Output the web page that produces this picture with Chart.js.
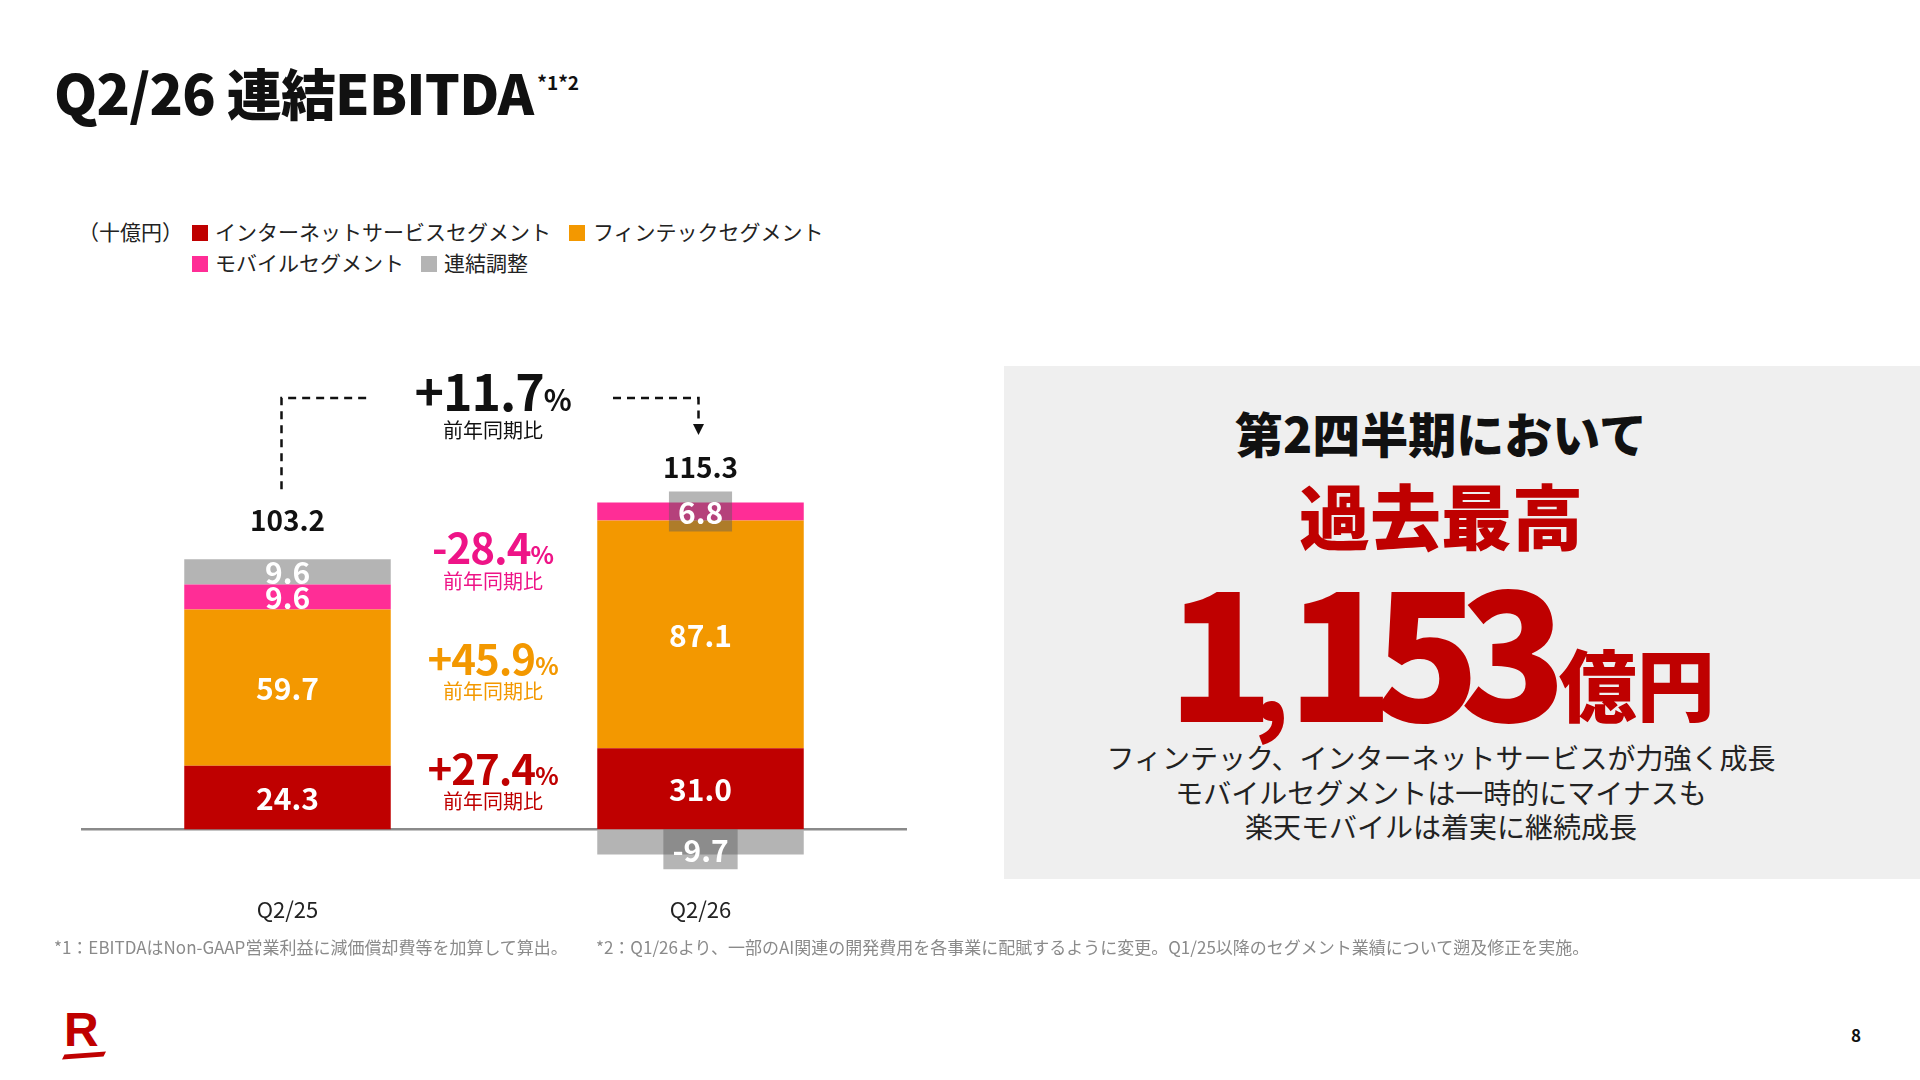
<!DOCTYPE html>
<html lang="ja"><head><meta charset="utf-8">
<script src="https://cdn.jsdelivr.net/npm/chart.js@4.4.1/dist/chart.umd.min.js"></script>
<style>
html,body{margin:0;padding:0;background:#fff;}
body{width:1920px;height:1080px;position:relative;overflow:hidden;font-family:"Noto Sans CJK JP","Noto Sans",sans-serif;color:#111;}
.abs{position:absolute;white-space:nowrap;line-height:1;}
.sq{position:absolute;width:16px;height:16px;}
.leg{position:absolute;font-size:21px;line-height:1;color:#222;white-space:nowrap;}
.yoy{position:absolute;left:393px;width:200px;text-align:center;white-space:nowrap;line-height:1;font-weight:700;letter-spacing:-1px;}
.yoy small{font-size:0.58em;letter-spacing:0;}
.yoysub{position:absolute;left:393px;width:200px;text-align:center;font-size:20px;line-height:1;white-space:nowrap;}
#chartBox{position:absolute;left:0;top:340px;width:1000px;height:640px;}
#panel{position:absolute;left:1004px;top:366px;width:916px;height:513px;background:#efefef;}
.pc{position:absolute;left:1004px;width:874px;text-align:center;white-space:nowrap;}
</style></head>
<body>
<div class="abs" style="left:54px;top:64px;font-size:55px;font-weight:900;color:#111;letter-spacing:-0.8px;">Q2/26 連結EBITDA<span style="font-size:19px;font-weight:700;vertical-align:top;position:relative;top:8px;margin-left:4px;letter-spacing:0;">*1*2</span></div>

<div class="leg" style="left:78px;top:221px;">（十億円）</div>
<div class="sq" style="left:192px;top:225px;background:#BF0000;"></div>
<div class="leg" id="lg0" style="left:215px;top:221px;"></div>
<div class="sq" style="left:569px;top:225px;background:#F39800;"></div>
<div class="leg" id="lg1" style="left:593px;top:221px;"></div>
<div class="sq" style="left:192px;top:256px;background:#FF2D96;"></div>
<div class="leg" id="lg2" style="left:215px;top:252px;"></div>
<div class="sq" style="left:421px;top:256px;background:#B4B4B4;"></div>
<div class="leg" id="lg3" style="left:444px;top:252px;"></div>

<div id="chartBox"><canvas id="c" width="1000" height="640"></canvas></div>

<div class="yoy" id="yoy0" style="top:364px;font-size:50px;color:#111;"></div>
<div class="yoysub" style="top:420px;color:#111;">前年同期比</div>
<div class="yoy" id="yoy1" style="top:525px;font-size:42px;color:#EE1487;"></div>
<div class="yoysub" style="top:571px;color:#EE1487;">前年同期比</div>
<div class="yoy" id="yoy2" style="top:636px;font-size:42px;color:#F39800;"></div>
<div class="yoysub" style="top:681px;color:#F39800;">前年同期比</div>
<div class="yoy" id="yoy3" style="top:746px;font-size:42px;color:#BF0000;"></div>
<div class="yoysub" style="top:791px;color:#BF0000;">前年同期比</div>

<div id="panel"></div>
<div class="pc" style="top:408px;font-size:48px;font-weight:900;line-height:1;color:#111;">第2四半期において</div>
<div class="pc" style="top:478px;font-size:71px;font-weight:900;line-height:1;color:#BF0000;">過去最高</div>
<div class="pc" style="top:558px;font-size:175px;font-weight:900;line-height:175px;color:#BF0000;"><span style="letter-spacing:-20px;">1<span style="font-size:100px;letter-spacing:-2px;">,</span>153</span><span style="font-size:78px;line-height:1;margin-left:12px;position:relative;top:-6px;">億円</span></div>
<div class="pc" style="top:740px;font-size:28px;line-height:34.5px;color:#222;">フィンテック、インターネットサービスが力強く成長<br>モバイルセグメントは一時的にマイナスも<br>楽天モバイルは着実に継続成長</div>

<div class="abs" style="left:54px;top:938px;font-size:17px;color:#8a8a8a;">*1：EBITDAはNon-GAAP営業利益に減価償却費等を加算して算出。</div>
<div class="abs" style="left:596px;top:938px;font-size:17px;color:#8a8a8a;">*2：Q1/26より、一部のAI関連の開発費用を各事業に配賦するように変更。Q1/25以降のセグメント業績について遡及修正を実施。</div>

<div class="abs" style="left:64px;top:1006px;font-size:48px;font-weight:900;color:#BF0000;font-family:'Liberation Sans',sans-serif;">R</div>
<div class="abs" style="left:64px;top:1053px;width:40px;height:5px;background:#BF0000;transform:skewX(-30deg) rotate(-4deg);"></div>
<div class="abs" style="left:1851px;top:1026px;font-size:17px;font-weight:700;color:#111;">8</div>

<script>
// ---- data ----
const categories = ['Q2/25', 'Q2/26'];
const seriesNames = ['インターネットサービスセグメント', 'フィンテックセグメント', 'モバイルセグメント', '連結調整'];
const internetValues = [24.3, 31.0];
const fintechValues = [59.7, 87.1];
const mobileValues = [9.6, 6.8];
const adjustValues = [9.6, -9.7];
const totalValues = [103.2, 115.3];
const yoyTotal = '+11.7';
const yoyMobile = '-28.4';
const yoyFintech = '+45.9';
const yoyInternet = '+27.4';

seriesNames.forEach((n, i) => document.getElementById('lg' + i).textContent = n);
[yoyTotal, yoyMobile, yoyFintech, yoyInternet].forEach((t, i) =>
  document.getElementById('yoy' + i).innerHTML = t + '<small>%</small>');

const FONT = '"Noto Sans CJK JP","Noto Sans",sans-serif';

const zeroLinePlugin = {
  id: 'zeroLine',
  beforeDatasetsDraw(chart) {
    const { ctx, chartArea, scales } = chart;
    const y = scales.y.getPixelForValue(0);
    ctx.save();
    ctx.strokeStyle = '#8a8a8a';
    ctx.lineWidth = 2.5;
    ctx.beginPath();
    ctx.moveTo(chartArea.left, y);
    ctx.lineTo(chartArea.right, y);
    ctx.stroke();
    ctx.restore();
  }
};

const labelPlugin = {
  id: 'barLabels',
  afterDatasetsDraw(chart) {
    const ctx = chart.ctx;
    const tops = [];
    chart.data.datasets.forEach((ds, di) => {
      const meta = chart.getDatasetMeta(di);
      meta.data.forEach((bar, i) => {
        const v = ds.data[i];
        tops[i] = Math.min(tops[i] === undefined ? Infinity : tops[i], bar.y, bar.base);
        const txt = v.toFixed(1);
        ctx.save();
        ctx.font = '700 30px ' + FONT;
        ctx.textAlign = 'center';
        ctx.textBaseline = 'middle';
        let cy = (bar.y + bar.base) / 2;
        if (ds.labelBox && ds.labelBox[i]) {
          const w = ctx.measureText(txt).width + 18;
          const h = 40;
          let by = cy - h / 2;
          if (v < 0) { by = bar.base; cy = by + h / 2; }
          ctx.fillStyle = 'rgba(90,90,90,0.45)';
          ctx.fillRect(bar.x - w / 2, by, w, h);
        }
        ctx.fillStyle = '#ffffff';
        ctx.fillText(txt, bar.x, cy + 1);
        ctx.restore();
      });
    });
    // totals
    ctx.save();
    ctx.font = '700 28px ' + FONT;
    ctx.textAlign = 'center';
    ctx.textBaseline = 'alphabetic';
    ctx.fillStyle = '#111';
    const meta0 = chart.getDatasetMeta(0);
    totalValues.forEach((t, i) => {
      ctx.fillText(t.toFixed(1), meta0.data[i].x, tops[i] - 28 + i * 3);
    });
    // dashed connector
    const x1 = meta0.data[0].x - 6;
    const x2 = meta0.data[1].x - 2;
    const yTop = 58;
    ctx.strokeStyle = '#111';
    ctx.lineWidth = 2.5;
    ctx.setLineDash([8, 6]);
    ctx.beginPath();
    ctx.moveTo(x1, tops[0] - 70);
    ctx.lineTo(x1, yTop);
    ctx.lineTo(372, yTop);
    ctx.moveTo(613, yTop);
    ctx.lineTo(x2, yTop);
    ctx.lineTo(x2, 85);
    ctx.stroke();
    ctx.setLineDash([]);
    ctx.fillStyle = '#111';
    ctx.beginPath();
    ctx.moveTo(x2 - 5.5, 84);
    ctx.lineTo(x2 + 5.5, 84);
    ctx.lineTo(x2, 95);
    ctx.closePath();
    ctx.fill();
    ctx.restore();
  }
};

function draw() {
  new Chart(document.getElementById('c'), {
    type: 'bar',
    data: {
      labels: categories,
      datasets: [
        { label: seriesNames[0], data: internetValues, backgroundColor: '#BF0000' },
        { label: seriesNames[1], data: fintechValues, backgroundColor: '#F39800' },
        { label: seriesNames[2], data: mobileValues, backgroundColor: '#FF2D96', labelBox: [false, true] },
        { label: seriesNames[3], data: adjustValues, backgroundColor: '#B4B4B4', labelBox: [false, true] }
      ]
    },
    options: {
      responsive: false,
      animation: false,
      devicePixelRatio: 1,
      layout: { padding: { left: 81, right: 93, top: 18.5, bottom: 53.6 } },
      datasets: { bar: { barPercentage: 1, categoryPercentage: 0.5, borderWidth: 0 } },
      scales: {
        x: {
          stacked: true,
          grid: { display: false, drawTicks: false },
          border: { display: false },
          ticks: { font: { size: 22, family: FONT }, color: '#222', padding: 4 }
        },
        y: { stacked: true, display: false, min: -24, max: 180 }
      },
      plugins: { legend: { display: false }, tooltip: { enabled: false } }
    },
    plugins: [zeroLinePlugin, labelPlugin]
  });
}
if (document.fonts && document.fonts.load) {
  Promise.all([
    document.fonts.load('700 30px "Noto Sans CJK JP"'),
    document.fonts.load('400 22px "Noto Sans CJK JP"')
  ]).then(draw, draw);
} else { draw(); }
</script>
</body></html>
